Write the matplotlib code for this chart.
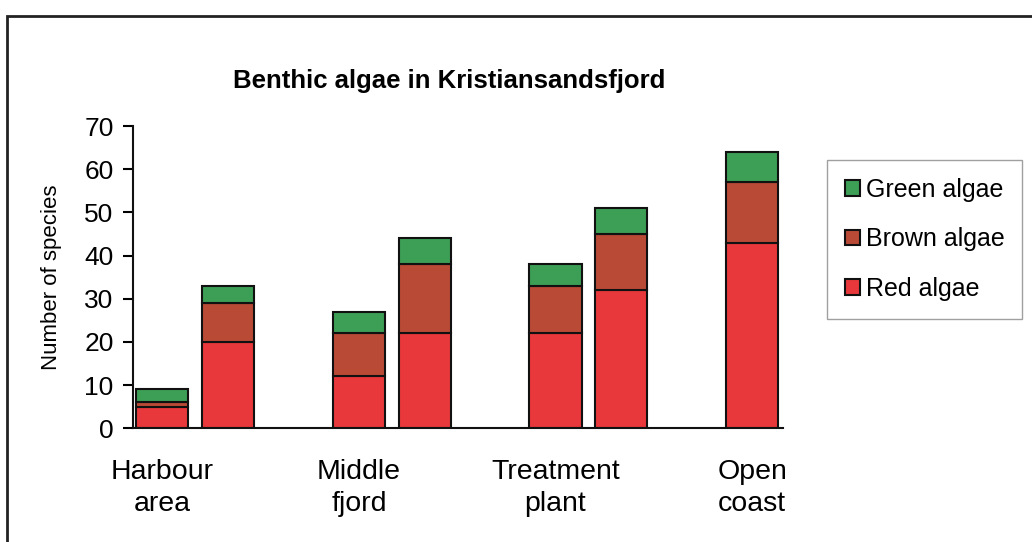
import matplotlib
matplotlib.use('Agg')
import matplotlib.pyplot as plt
import numpy as np
from matplotlib.patches import Rectangle

plt.rcParams['font.family'] = ['Liberation Sans', 'DejaVu Sans']

sites = ['Harbour\narea', 'Middle\nfjord', 'Treatment\nplant', 'Open\ncoast']
# two bars per site (second survey missing for open coast)
group_idx = [0, 0, 1, 1, 2, 2, 3]
slot_idx = [0, 1, 0, 1, 0, 1, 0]
red_algae = [5, 20, 12, 22, 22, 32, 43]
brown_algae = [1, 9, 10, 16, 11, 13, 14]
green_algae = [3, 4, 5, 6, 5, 6, 7]
series_names = ['Red algae', 'Brown algae', 'Green algae']
series_colors = ['#e9383b', '#b94a36', '#3c9f55']

fig = plt.figure(figsize=(10.32, 5.42), dpi=100)
ax = fig.add_axes([0.1289, 0.2098, 0.6298, 0.5577])

# outer frame of the page (runs off the right and bottom edge)
fig.patches.append(Rectangle((7 / 1032, -0.1), 1.2, (542 - 16) / 542 + 0.1,
                             transform=fig.transFigure, fill=False,
                             edgecolor='#222222', linewidth=2))

offset = 0.167
width = 0.265
xpos = np.array(group_idx) + (np.array(slot_idx) * 2 - 1) * offset

bottom = np.zeros(len(xpos))
handles = []
for vals, name, col in zip([red_algae, brown_algae, green_algae], series_names, series_colors):
    b = ax.bar(xpos, vals, width, bottom=bottom, color=col, edgecolor='#111111',
               linewidth=1.5, label=name)
    handles.append(b)
    bottom = bottom + np.array(vals)

ax.set_xlim(-0.316, 2.99)
ax.set_ylim(0, 70)
ax.set_yticks(range(0, 71, 10))
ax.tick_params(axis='y', direction='out', length=7, width=1.5, labelsize=19, pad=7)

first_bar = [i - offset for i in range(len(sites))]
ax.set_xticks(first_bar)
ax.set_xticklabels(sites, fontsize=20.5, linespacing=1.3)
ax.tick_params(axis='x', length=0, pad=22)

for s in ['top', 'right']:
    ax.spines[s].set_visible(False)
for s in ['left', 'bottom']:
    ax.spines[s].set_linewidth(1.5)
    ax.spines[s].set_color('#111111')

ax.set_ylabel('Number of species', fontsize=16, labelpad=16)
fig.text(0.435, 0.851, 'Benthic algae in Kristiansandsfjord', fontsize=18.5,
         fontweight='bold', ha='center', va='center')

leg = fig.legend(handles[::-1], series_names[::-1], loc='upper left',
                 bbox_to_anchor=(827 / 1032, 1 - 160 / 542), fontsize=18,
                 frameon=True, fancybox=False, edgecolor='#888888',
                 handlelength=0.6, handleheight=0.6, handletextpad=0.25,
                 labelspacing=1.03, borderpad=0.7, borderaxespad=0)
leg.get_frame().set_linewidth(1.0)

fig.savefig('out.png', dpi=100)
